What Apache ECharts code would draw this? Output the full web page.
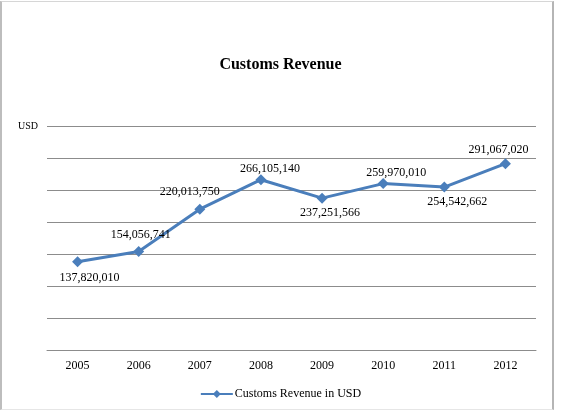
<!DOCTYPE html>
<html>
<head>
<meta charset="utf-8">
<script src="https://cdn.jsdelivr.net/npm/echarts@6/dist/echarts.min.js"></script>
<style>
  html, body { margin: 0; padding: 0; background: #fff; }
  #frame {
    position: absolute; left: 0; top: 1px; width: 550px; height: 407px;
    border-left: 2px solid #bdbdbd; border-right: 2px solid #b5b5b5;
    border-top: 1px solid #d6d6d6; border-bottom: 1px solid #e6e6e6;
  }
  #chart { position: absolute; left: 0; top: 0; width: 561px; height: 411px; }
</style>
</head>
<body>
<div id="frame"></div>
<div id="chart"></div>
<script>
// chart data
const years = ["2005", "2006", "2007", "2008", "2009", "2010", "2011", "2012"];
const revenue = [137820010, 154056741, 220013750, 266105140, 237251566, 259970010, 254542662, 291067020];

// where each value label sits relative to its point (px), like the original layout
const labelShift = [[12, 16], [2, -17], [-10, -17], [9, -11], [8, 15], [13, -11], [13, 15], [-7, -14]];

const serif = "'Liberation Serif', 'Times New Roman', serif";

let chart = echarts.init(document.getElementById("chart"));

let points = revenue.map((v, i) => ({
  value: v,
  label: { position: "inside", offset: labelShift[i] },
}));

let option = {
  animation: false,
  title: {
    text: "Customs Revenue",
    left: "center",
    top: 52,
    textStyle: { fontFamily: serif, fontSize: 16, fontWeight: "bold", color: "#000" },
  },
  legend: {
    bottom: 6,
    left: "center",
    itemWidth: 32,
    itemHeight: 10,
    itemGap: 0,
    textStyle: { fontFamily: serif, fontSize: 12, color: "#000", padding: [0, 0, 0, -3] },
    data: ["Customs Revenue in USD"],
  },
  grid: { left: 47, right: 25, top: 126, bottom: 61 },
  xAxis: {
    type: "category",
    data: years,
    boundaryGap: true,
    axisLine: { lineStyle: { color: "#8c8c8c", width: 1 } },
    axisTick: { show: false },
    axisLabel: { fontFamily: serif, fontSize: 12, color: "#000", margin: 10 },
  },
  yAxis: {
    type: "value",
    min: 0,
    max: 350000000,
    interval: 50000000,
    axisLine: { show: false },
    axisTick: { show: false },
    axisLabel: {
      fontFamily: serif, fontSize: 10, color: "#000", margin: 9,
      formatter: (v) => (v === 350000000 ? "USD" : ""),
    },
    splitLine: { lineStyle: { color: "#8c8c8c", width: 1 } },
  },
  series: [
    {
      name: "Customs Revenue in USD",
      type: "line",
      data: points,
      symbol: "diamond",
      symbolSize: 11,
      lineStyle: { color: "#4a7ebb", width: 3 },
      itemStyle: { color: "#4a7ebb" },
      label: {
        show: true,
        fontFamily: serif,
        fontSize: 12,
        color: "#000",
        formatter: (p) => p.value.toLocaleString("en-US"),
      },
    },
  ],
};

chart.setOption(option);
</script>
</body>
</html>
